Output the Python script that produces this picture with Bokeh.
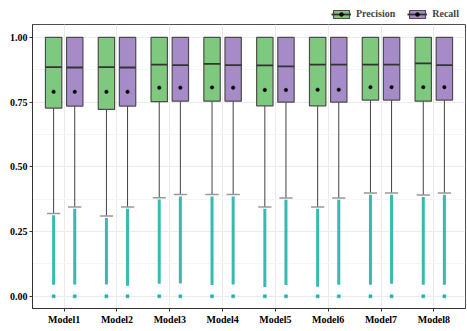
from bokeh.plotting import figure
from bokeh.layouts import column
from bokeh.models import (Range1d, FixedTicker, ColumnDataSource, Legend, LegendItem,
                          NumeralTickFormatter)
from bokeh.transform import dodge
from bokeh.embed import file_html
from bokeh.resources import INLINE

# ---------------- data ----------------
models = ["Model1", "Model2", "Model3", "Model4", "Model5", "Model6", "Model7", "Model8"]
xpos = [1, 2, 3, 4, 5, 6, 7, 8]
y_ticks = [0.0, 0.25, 0.5, 0.75, 1.0]
y_minor = [0.125, 0.375, 0.625, 0.875]

prec_q1 = [0.727, 0.722, 0.752, 0.754, 0.736, 0.736, 0.758, 0.754]
prec_med = [0.885, 0.885, 0.895, 0.898, 0.892, 0.895, 0.895, 0.900]
prec_q3 = [1.0, 1.0, 1.0, 1.0, 1.0, 1.0, 1.0, 1.0]
prec_mean = [0.790, 0.790, 0.806, 0.807, 0.797, 0.798, 0.808, 0.808]
prec_whisk = [0.320, 0.310, 0.381, 0.393, 0.345, 0.345, 0.399, 0.391]
prec_out_top = [0.313, 0.303, 0.374, 0.386, 0.338, 0.338, 0.392, 0.384]
prec_out_bot = [0.045, 0.046, 0.049, 0.044, 0.036, 0.037, 0.045, 0.045]
prec_zero = [0.0, 0.0, 0.0, 0.0, 0.0, 0.0, 0.0, 0.0]

rec_q1 = [0.735, 0.735, 0.754, 0.754, 0.750, 0.750, 0.758, 0.758]
rec_med = [0.884, 0.884, 0.893, 0.893, 0.888, 0.895, 0.895, 0.893]
rec_q3 = [1.0, 1.0, 1.0, 1.0, 1.0, 1.0, 1.0, 1.0]
rec_mean = [0.790, 0.790, 0.806, 0.806, 0.797, 0.798, 0.808, 0.808]
rec_whisk = [0.345, 0.345, 0.393, 0.393, 0.380, 0.380, 0.399, 0.399]
rec_out_top = [0.338, 0.338, 0.386, 0.386, 0.373, 0.373, 0.392, 0.392]
rec_out_bot = [0.046, 0.041, 0.050, 0.046, 0.044, 0.045, 0.049, 0.045]
rec_zero = [0.0, 0.0, 0.0, 0.0, 0.0, 0.0, 0.0, 0.0]

series_labels = ["Precision", "Recall"]

# ---------------- style ----------------
FONT = "Liberation Serif"
GREEN = "#7FC97F"
PURPLE = "#A68BC8"
TEAL = "#20B2AA"
BOX_LINE = "#4D4D4D"
BW = 0.31
CAP = 0.25
OFF = 0.2

src_p = ColumnDataSource(dict(x=xpos, q1=prec_q1, med=prec_med, q3=prec_q3, mean=prec_mean,
                              whisk=prec_whisk, otop=prec_out_top, obot=prec_out_bot,
                              zero=prec_zero))
src_r = ColumnDataSource(dict(x=xpos, q1=rec_q1, med=rec_med, q3=rec_q3, mean=rec_mean,
                              whisk=rec_whisk, otop=rec_out_top, obot=rec_out_bot,
                              zero=rec_zero))

# ---------------- main plot ----------------
p = figure(width=466, height=306, output_backend="svg", toolbar_location=None,
           x_range=Range1d(0.4, 8.6), y_range=Range1d(-0.047, 1.05),
           min_border_left=32, min_border_right=1, min_border_top=0, min_border_bottom=22)
p.background_fill_color = "white"
p.border_fill_color = "white"
p.outline_line_color = "#4D4D4D"
p.outline_line_width = 1


def box_parts(fig, src, off, fill, visible=True):
    xr = fig.x_range
    box = fig.vbar(x=dodge("x", off, range=xr), width=BW, bottom="q1", top="q3",
                   source=src, fill_color=fill, line_color=BOX_LINE, line_width=1.2,
                   visible=visible)
    med = fig.segment(x0=dodge("x", off - BW / 2, range=xr), y0="med",
                      x1=dodge("x", off + BW / 2, range=xr), y1="med",
                      source=src, line_color="#333333", line_width=1.8, visible=visible)
    mean = fig.scatter(x=dodge("x", off, range=xr), y="mean", source=src,
                       marker="circle", size=3.5, fill_color="black", line_color="black",
                       line_width=0.5, visible=visible)
    return [box, med, mean]


def draw_series(src, off, fill):
    xr = p.x_range
    p.segment(x0=dodge("x", off, range=xr), y0="obot",
              x1=dodge("x", off, range=xr), y1="otop",
              source=src, line_color=TEAL, line_width=3, line_alpha=0.9)
    p.scatter(x=dodge("x", off, range=xr), y="zero", source=src,
              marker="square", size=3, fill_color=TEAL, line_color=TEAL, line_width=0.5)
    p.segment(x0=dodge("x", off, range=xr), y0="whisk",
              x1=dodge("x", off, range=xr), y1="q1",
              source=src, line_color="#404040", line_width=1)
    p.segment(x0=dodge("x", off - CAP / 2, range=xr), y0="whisk",
              x1=dodge("x", off + CAP / 2, range=xr), y1="whisk",
              source=src, line_color="#999999", line_width=1.5)
    box_parts(p, src, off, fill)


draw_series(src_p, -OFF, GREEN)
draw_series(src_r, OFF, PURPLE)

p.xaxis.ticker = FixedTicker(ticks=xpos)
p.xaxis.major_label_overrides = {x: m for x, m in zip(xpos, models)}
p.yaxis.ticker = FixedTicker(ticks=y_ticks, minor_ticks=y_minor)
p.yaxis.formatter = NumeralTickFormatter(format="0.00")

for ax in (p.xaxis, p.yaxis):
    ax.axis_line_color = "#333333"
    ax.major_tick_line_color = "#333333"
    ax.major_tick_in = 0
    ax.major_tick_out = 3
    ax.minor_tick_in = 0
    ax.minor_tick_out = 0
    ax.major_label_text_font = FONT
    ax.major_label_text_font_style = "bold"
    ax.major_label_text_font_size = "10px"
    ax.major_label_text_color = "black"
    ax.major_label_standoff = 2

p.xgrid.grid_line_color = "#EBEBEB"
p.ygrid.grid_line_color = "#EBEBEB"
p.ygrid.minor_grid_line_color = "#F5F5F5"

# ---------------- legend strip ----------------
lg = figure(width=466, height=24, output_backend="svg", toolbar_location=None,
            x_range=Range1d(0.4, 8.6), y_range=Range1d(-0.047, 1.05),
            x_axis_type=None, y_axis_type=None,
            min_border_left=0, min_border_right=0, min_border_top=0, min_border_bottom=0)
lg.outline_line_color = None
lg.xgrid.visible = False
lg.ygrid.visible = False
lg.background_fill_color = "white"
lg.border_fill_color = "white"

lp = box_parts(lg, src_p, -OFF, GREEN, visible=False)
lr = box_parts(lg, src_r, OFF, PURPLE, visible=False)

legend = Legend(items=[LegendItem(label=series_labels[0], renderers=lp),
                       LegendItem(label=series_labels[1], renderers=lr)],
                location=(296, 2), orientation="horizontal",
                glyph_width=20, glyph_height=10, label_standoff=5, spacing=12,
                padding=3, margin=0, background_fill_alpha=0, border_line_alpha=0,
                inactive_fill_alpha=0, click_policy="none",
                label_text_font=FONT, label_text_font_style="bold",
                label_text_font_size="10px", label_height=10)
lg.add_layout(legend)

layout = column(lg, p, spacing=0)
open("out.html", "w").write(file_html(layout, INLINE))
